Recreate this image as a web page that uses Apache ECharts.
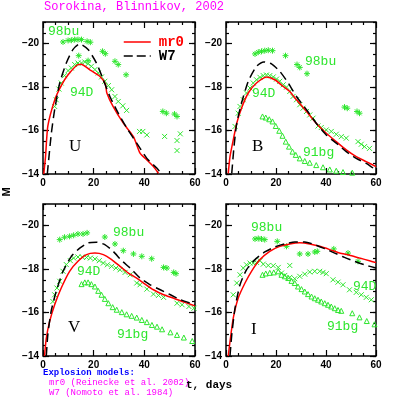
<!DOCTYPE html>
<html>
<head>
<meta charset="utf-8">
<script src="https://cdn.jsdelivr.net/npm/echarts@6/dist/echarts.min.js"></script>
<style>
  html, body { margin: 0; padding: 0; background: #fff; }
  #main { width: 399px; height: 399px; }
</style>
</head>
<body>
<div id="main"></div>
<script>
// panels and ticks
var bands = ['U', 'B', 'V', 'I'];
var yMajor = [-20, -18, -16, -14];

// model light curves [t, M]
var U_mr0 = [[0.3,-14.0],[1.0,-14.8],[1.9,-16.2],[4.6,-17.4],[7.2,-18.07],[9.9,-18.57],[13.8,-19.04],[15,-19.05],[18.5,-18.8],[22.4,-18.5],[24.6,-18.15],[25.2,-17.73],[27.7,-17.1],[31.7,-16.34],[35.7,-15.72],[38.3,-14.96],[41,-14.65],[43.6,-14.34],[45.6,-14.03]];
var U_w7 = [[1.7,-14.0],[3.3,-15.88],[4.6,-16.96],[6.6,-18.19],[9.2,-19.11],[11.8,-19.73],[14.5,-19.99],[17.8,-19.73],[21.1,-19.11],[23.8,-18.34],[26.4,-17.57],[29.7,-16.8],[33.1,-16.11],[37,-15.42],[41,-14.72],[45,-14.26],[46.5,-14.05]];
var B_mr0 = [[0.9,-14.03],[1.6,-14.8],[2.9,-15.57],[4.3,-16.34],[6.2,-17.03],[8.9,-17.73],[12.2,-18.19],[16.2,-18.47],[19.5,-18.34],[22.9,-18.03],[25.5,-17.8],[28.2,-17.42],[32.2,-16.88],[36.1,-16.34],[40.1,-15.88],[44.1,-15.49],[48.1,-15.11],[52.1,-14.8],[56.1,-14.57],[60,-14.34]];
var B_w7 = [[2.3,-14.03],[3.2,-15.26],[4.3,-16.34],[6.2,-17.26],[8.9,-18.27],[12.2,-18.96],[15.1,-19.16],[18.2,-19.07],[21.5,-18.73],[24.9,-18.19],[28.2,-17.57],[32.2,-16.96],[36.1,-16.34],[40.1,-15.8],[44.1,-15.42],[48.1,-15.03],[52.1,-14.72],[56.1,-14.49],[60,-14.18]];
var V_mr0 = [[0.6,-14],[1.3,-14.81],[2.6,-15.58],[4.6,-16.36],[7.2,-17.13],[10.5,-17.9],[13.8,-18.36],[17.2,-18.67],[20.5,-18.74],[23.8,-18.67],[27.1,-18.44],[30.4,-18.13],[33.7,-17.82],[37,-17.59],[39.7,-17.36],[43.6,-17.05],[47.6,-16.82],[51.6,-16.66],[55.6,-16.48],[60,-16.31]];
var V_w7 = [[1.3,-14],[1.9,-14.97],[3.2,-16.05],[5.2,-16.97],[7.9,-17.9],[11.2,-18.59],[14.5,-18.97],[17.8,-19.21],[21.1,-19.24],[24.4,-19.13],[27.7,-18.82],[31.1,-18.39],[34.4,-18.05],[38.3,-17.59],[42.3,-17.28],[46.3,-17.05],[50.3,-16.82],[54.3,-16.59],[60,-16.36]];
var I_mr0 = [[0.9,-14],[1.6,-14.66],[2.9,-15.74],[4.9,-16.67],[7.6,-17.36],[10.2,-17.9],[13.6,-18.44],[17.5,-18.82],[21.5,-19.05],[25.5,-19.16],[29.5,-19.21],[33.5,-19.16],[37.5,-19.05],[41.5,-18.9],[45.4,-18.74],[49.4,-18.64],[53.4,-18.51],[57.4,-18.39],[60,-18.3]];
var I_w7 = [[1.6,-14],[2.3,-14.97],[3.6,-16.2],[5.6,-17.28],[8.2,-17.97],[11.6,-18.44],[15.5,-18.79],[19.5,-19.02],[23.5,-19.16],[27.5,-19.25],[31.5,-19.25],[35.5,-19.13],[39.5,-18.94],[43.5,-18.74],[47.4,-18.54],[51.4,-18.36],[55.4,-18.2],[60,-18.05]];

// observed SNe [t, M]
var U_98bu = [[7.9,-20.08],[9.9,-20.15],[11.2,-20.16],[12.5,-20.19],[13.8,-20.19],[15.2,-20.19],[17.4,-20.11],[18.7,-20.07],[14.1,-19.45],[17.8,-19.22],[23.5,-19.65],[24.6,-19.54],[28.4,-19.19],[29.7,-19.04],[32.8,-18.57],[47.3,-16.88],[48.7,-16.8],[51.9,-16.76],[52.9,-16.65]];
var U_94D = [[4.6,-17.11],[5.2,-17.42],[6.3,-17.91],[7.2,-18.19],[8.5,-18.53],[9.9,-18.76],[11.2,-18.88],[12.5,-19.04],[13.8,-19.11],[15.2,-19.11],[16.5,-19.16],[17.8,-19.08],[19.1,-18.96],[20.5,-18.81],[21.8,-18.65],[23.1,-18.47],[24.4,-18.27],[25.8,-18.07],[27.1,-17.88],[28.4,-17.57],[29.7,-17.34],[31.5,-17.14],[33.0,-16.93],[38.1,-15.96],[39.4,-15.96],[41.0,-15.8],[48.0,-15.73],[54.2,-15.85],[52.9,-15.54],[52.9,-15.08]];
var B_98bu = [[11.6,-19.53],[12.9,-19.61],[14.2,-19.65],[15.5,-19.68],[16.9,-19.7],[18.6,-19.68],[23.8,-19.45],[28.4,-19.04],[29.5,-18.91],[32.4,-18.62],[47.4,-17.08],[48.5,-17.03],[52.4,-16.88],[53.4,-16.8]];
var B_94D = [[3.6,-16.19],[4.9,-16.8],[5.6,-17.11],[6.9,-17.42],[8.2,-17.73],[9.6,-17.96],[10.9,-18.19],[12.2,-18.34],[13.6,-18.45],[14.9,-18.53],[16.2,-18.56],[17.5,-18.53],[18.9,-18.47],[20.2,-18.37],[21.5,-18.27],[22.9,-18.11],[24.2,-18.0],[25.5,-17.8],[26.8,-17.57],[28.2,-17.42],[29.5,-17.19],[30.8,-17.03],[32.2,-16.88],[33.5,-16.72],[34.8,-16.57],[36.8,-16.21],[38.1,-16.14],[40.1,-16.03],[42.1,-15.96],[44.1,-15.83],[46.1,-15.72],[48.1,-15.65],[52.8,-15.49],[54.1,-15.37],[55.4,-15.26],[57.4,-15.18]];
var B_91bg = [[14.6,-16.65],[15.9,-16.6],[17.3,-16.52],[18.6,-16.42],[19.9,-16.21],[21.3,-15.99],[22.6,-15.76],[23.9,-15.49],[25.2,-15.26],[26.6,-15.03],[27.9,-14.88],[29.5,-14.72],[31.5,-14.6],[33.5,-14.52],[36.1,-14.41],[38.8,-14.31],[41.5,-14.21],[44.1,-14.15],[46.8,-14.09],[50.5,-14.06]];
var V_98bu = [[6.6,-19.36],[8.5,-19.47],[10.5,-19.51],[12.1,-19.56],[13.8,-19.62],[15.8,-19.62],[17.4,-19.67],[24.4,-19.48],[28.4,-19.16],[31.7,-18.85],[35.7,-18.7],[39.0,-18.59],[42.9,-18.48],[47.6,-18.08],[48.9,-18.05],[51.6,-17.85],[52.5,-17.79]];
var V_94D = [[3.9,-16.51],[4.6,-16.82],[5.5,-17.13],[6.6,-17.44],[7.9,-17.9],[9.2,-18.21],[10.8,-18.39],[12.1,-18.51],[13.8,-18.56],[15.5,-18.56],[17.2,-18.54],[18.7,-18.51],[20.5,-18.47],[22.2,-18.39],[23.8,-18.28],[25.4,-18.2],[27.1,-18.13],[28.8,-18.05],[30.4,-17.97],[32.4,-17.85],[34.4,-17.74],[37.0,-17.36],[38.3,-17.28],[41.0,-17.08],[43.6,-16.85],[45.6,-16.79],[47.6,-16.7],[52.9,-16.43],[54.9,-16.36],[57.6,-16.28],[59.6,-16.2]];
var V_91bg = [[15.2,-17.31],[16.5,-17.39],[17.8,-17.39],[19.1,-17.31],[20.5,-17.2],[21.8,-17.0],[23.1,-16.82],[24.4,-16.63],[25.8,-16.43],[27.5,-16.25],[29.1,-16.13],[31.1,-16.02],[33.0,-15.92],[35.0,-15.85],[37.0,-15.77],[39.0,-15.66],[41.0,-15.56],[43.0,-15.43],[45.0,-15.35],[47.0,-15.23],[50.3,-15.09],[52.9,-14.97],[55.6,-14.85],[58.9,-14.69]];
var I_98bu = [[11.6,-19.39],[12.9,-19.41],[14.2,-19.39],[15.5,-19.36],[20.5,-19.28],[24.2,-19.05],[29.5,-18.7],[32.8,-18.7],[35.5,-18.79],[36.5,-18.82],[43.1,-18.93],[48.8,-18.74],[52.8,-18.36]];
var I_94D = [[2.9,-16.82],[4.3,-17.36],[5.6,-17.74],[6.9,-18.05],[8.2,-18.2],[9.6,-18.28],[10.9,-18.28],[12.2,-18.31],[13.6,-18.39],[14.9,-18.23],[16.9,-18.17],[18.9,-18.16],[20.9,-18.08],[22.2,-17.82],[23.5,-17.71],[25.5,-17.62],[25.5,-18.17],[27.5,-17.56],[29.5,-17.67],[31.5,-17.77],[33.5,-17.87],[35.5,-17.9],[37.5,-17.9],[38.8,-17.85],[40.1,-17.79],[42.8,-17.51],[44.8,-17.4],[46.8,-17.28],[49.4,-17.05],[52.1,-16.93],[54.1,-16.82],[56.1,-16.7],[58.1,-16.59]];
var I_91bg = [[14.6,-17.74],[15.9,-17.8],[17.5,-17.83],[19.1,-17.85],[20.9,-17.9],[22.2,-17.74],[23.5,-17.67],[24.9,-17.59],[26.2,-17.46],[27.5,-17.36],[28.8,-17.2],[30.2,-17.08],[31.5,-16.97],[32.8,-16.85],[34.2,-16.74],[35.5,-16.66],[36.8,-16.59],[38.1,-16.51],[39.5,-16.43],[40.8,-16.36],[42.1,-16.28],[43.5,-16.2],[44.8,-16.12],[46.1,-16.08],[50.5,-15.97],[53.4,-15.78],[56.3,-15.61],[59.4,-15.46]];

var models = [[U_mr0, U_w7], [B_mr0, B_w7], [V_mr0, V_w7], [I_mr0, I_w7]];
var observed = [
    {'98bu': U_98bu, '94D': U_94D},
    {'98bu': B_98bu, '94D': B_94D, '91bg': B_91bg},
    {'98bu': V_98bu, '94D': V_94D, '91bg': V_91bg},
    {'98bu': I_98bu, '94D': I_94D, '91bg': I_91bg}
];

var GREEN = '#2ee62e';
var star = 'path://M0,-5L0,5M-5,0L5,0M-3.5,-3.5L3.5,3.5M-3.5,3.5L3.5,-3.5';
var cross = 'path://M-4,-4L4,4M-4,4L4,-4';
var symbols = {'98bu': [star, 6], '94D': [cross, 5], '91bg': ['triangle', 5]};

var grids = [
    {left: 43, top: 22, width: 152, height: 152},
    {left: 226, top: 22, width: 150, height: 152},
    {left: 43, top: 204, width: 152, height: 152},
    {left: 226, top: 204, width: 150, height: 152}
];

var tickFont = {color: '#000', fontFamily: 'Liberation Sans', fontWeight: 'bold', fontSize: 10};

function render() {
    var myChart = echarts.init(document.getElementById('main'));
    var xAxis = [], yAxis = [], series = [];

    for (var g = 0; g < 4; g++) {
        grids[g].show = true;
        grids[g].borderColor = '#000';
        grids[g].borderWidth = 1.5;
        ['bottom', 'top'].forEach(function (pos) {
            xAxis.push({
                gridIndex: g, type: 'value', min: 0, max: 60, interval: 20, position: pos,
                axisLine: {show: false},
                axisTick: {inside: true, length: 6, lineStyle: {color: '#000', width: 1.2}},
                minorTick: {show: true, splitNumber: 4, length: 3, lineStyle: {color: '#000', width: 1.2}},
                splitLine: {show: false},
                axisLabel: {show: pos == 'bottom', margin: 4, textStyle: tickFont}
            });
        });
        ['left', 'right'].forEach(function (pos) {
            // minor ticks every 0.5
            yAxis.push({
                gridIndex: g, type: 'value', inverse: true, min: -21, max: -14, interval: 0.5, position: pos,
                axisLine: {show: false},
                axisTick: {inside: true, length: 3, lineStyle: {color: '#000', width: 1.2}},
                splitLine: {show: false},
                axisLabel: {
                    show: pos == 'left', margin: 4, textStyle: tickFont,
                    formatter: function (v) { return v % 2 === 0 ? '\u2212' + Math.abs(v) : ''; }
                }
            });
            // major ticks
            yAxis.push({
                gridIndex: g, type: 'value', inverse: true, min: -21, max: -14, position: pos,
                axisLine: {show: false},
                axisTick: {inside: true, length: 6, customValues: yMajor, lineStyle: {color: '#000', width: 1.2}},
                splitLine: {show: false},
                axisLabel: {show: false}
            });
        });

        var xi = g * 2, yi = g * 4;
        series.push({
            name: 'mr0', type: 'line', xAxisIndex: xi, yAxisIndex: yi, data: models[g][0],
            symbol: 'none', smooth: 0.2, lineStyle: {color: '#ff0000', width: 1.5}, itemStyle: {color: '#ff0000'}, z: 3
        });
        series.push({
            name: 'W7', type: 'line', xAxisIndex: xi, yAxisIndex: yi, data: models[g][1],
            symbol: 'none', smooth: 0.2, lineStyle: {color: '#000', width: 1.5, type: [9, 5]}, itemStyle: {color: '#000'}, z: 3
        });
        var obs = observed[g];
        for (var sn in obs) {
            series.push({
                name: sn, type: 'scatter', xAxisIndex: xi, yAxisIndex: yi, data: obs[sn],
                symbol: symbols[sn][0], symbolSize: symbols[sn][1],
                itemStyle: {color: 'rgba(0,0,0,0)', borderColor: GREEN, borderWidth: 1, opacity: 1},
                z: 2
            });
        }
    }

    function txt(s, x, y, color, font, extra) {
        var o = {type: 'text', x: x, y: y, style: {text: s, fill: color, font: font, textVerticalAlign: 'middle'}};
        if (extra) for (var k in extra) o[k] = extra[k];
        return o;
    }
    var mono = '13px "Liberation Mono"';
    var letter = '17px "Liberation Serif"';
    var graphic = [
        txt('Sorokina, Blinnikov, 2002', 44, 7, '#ff00ff', '12px "Liberation Mono"'),
        txt('98bu', 48, 32, GREEN, mono), txt('94D', 70, 93, GREEN, mono), txt('U', 69, 147, '#000', letter),
        txt('98bu', 305, 62, GREEN, mono), txt('94D', 252, 94, GREEN, mono), txt('91bg', 303, 153, GREEN, mono), txt('B', 252, 147, '#000', letter),
        txt('98bu', 113, 233, GREEN, mono), txt('94D', 77, 272, GREEN, mono), txt('91bg', 117, 335, GREEN, mono), txt('V', 68, 328, '#000', letter),
        txt('98bu', 251, 228, GREEN, mono), txt('94D', 353, 287, GREEN, mono), txt('91bg', 327, 327, GREEN, mono), txt('I', 251, 330, '#000', letter),
        txt('Explosion models:', 43, 373, '#0000ff', 'bold 9px "Liberation Mono"'),
        txt('mr0 (Reinecke et al. 2002)', 49, 383, '#ff00ff', '9px "Liberation Mono"'),
        txt('W7 (Nomoto et al. 1984)', 49, 393, '#ff00ff', '9px "Liberation Mono"'),
        txt('t, days', 186, 385, '#000', 'bold 11px "Liberation Mono"'),
        txt('M', 7, 192, '#000', 'bold 11px "Liberation Sans"', {rotation: Math.PI / 2})
    ];
    graphic[graphic.length - 1].style.textAlign = 'center';

    var hidden = {color: 'rgba(0,0,0,0)', borderWidth: 0, opacity: 0};
    var option = {
        backgroundColor: '#fff',
        animation: false,
        grid: grids,
        xAxis: xAxis,
        yAxis: yAxis,
        legend: {
            data: [
                {name: 'mr0', textStyle: {color: '#ff0000'}, itemStyle: hidden,
                    lineStyle: {color: '#ff0000', width: 1.5, type: 'solid'}},
                {name: 'W7', textStyle: {color: '#000'}, itemStyle: hidden,
                    lineStyle: {color: '#000', width: 1.5, type: [9, 4]}}
            ],
            orient: 'vertical', left: 118, top: 30, itemWidth: 27, itemHeight: 10, itemGap: 0,
            selectedMode: false,
            textStyle: {fontFamily: 'Liberation Mono', fontWeight: 'bold', fontSize: 14, lineHeight: 14, padding: [0, 0, 0, 3]}
        },
        graphic: graphic,
        series: series
    };
    myChart.setOption(option);
}

render();
</script>
</body>
</html>
